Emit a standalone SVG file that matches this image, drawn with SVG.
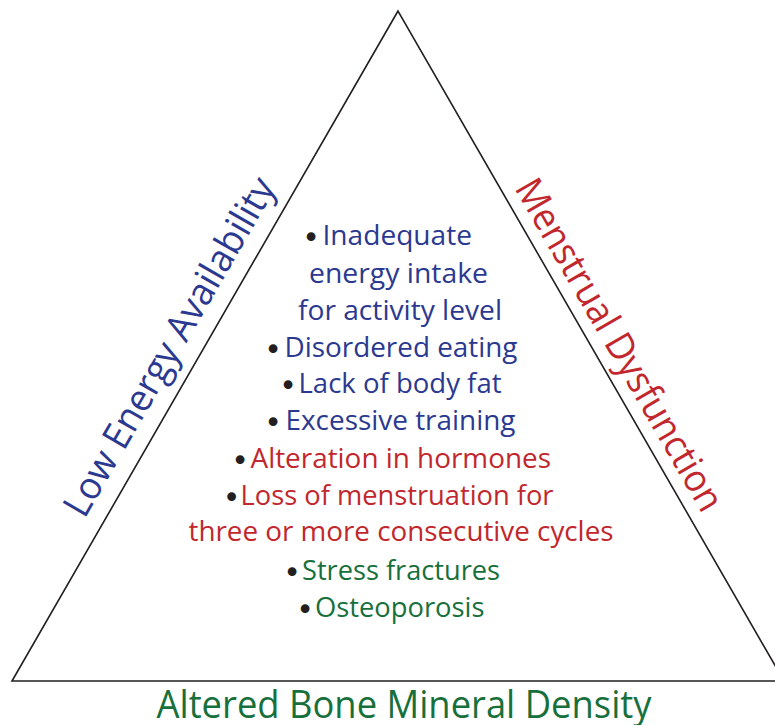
<svg xmlns="http://www.w3.org/2000/svg" width="775" height="725" viewBox="0 0 775 725">
  <style>
    .edge { fill: none; stroke: #231f20; stroke-width: 1.6; stroke-linejoin: miter; }
    .label { font-family: "Open Sans", "Liberation Sans", sans-serif; font-size: 38px; }
    .item { font-family: "Open Sans", "Liberation Sans", sans-serif; font-size: 26.5px; }
    .dot { font-family: "DejaVu Sans", sans-serif; font-size: 30px; fill: #231f20; text-anchor: middle; }
    .blue { fill: #2b3990; }
    .red { fill: #c1272d; }
    .green { fill: #17703c; }
  </style>
  <rect width="775" height="725" fill="#ffffff"/>
  <g id="triangle">
    <path class="edge" d="M398 11 L12 681 L784 681 Z"/>
  </g>
  <g id="label-low-energy">
    <text class="label blue" transform="translate(84.5 519.6) rotate(-60)" textLength="384" lengthAdjust="spacingAndGlyphs">Low Energy Availability</text>
  </g>
  <g id="label-menstrual">
    <text class="label red" transform="translate(514 188) rotate(60)" textLength="377" lengthAdjust="spacingAndGlyphs">Menstrual Dysfunction</text>
  </g>
  <g id="label-bone">
    <text class="label green" x="156.5" y="717.5" textLength="495" lengthAdjust="spacingAndGlyphs">Altered Bone Mineral Density</text>
  </g>
  <g id="list">
    <text class="dot" x="311" y="248">•</text>
    <text class="item blue" x="322.5" y="245" textLength="149.5" lengthAdjust="spacingAndGlyphs">Inadequate</text>
    <text class="item blue" x="309" y="282.5" textLength="179" lengthAdjust="spacingAndGlyphs">energy intake</text>
    <text class="item blue" x="298" y="320" textLength="204" lengthAdjust="spacingAndGlyphs">for activity level</text>

    <text class="dot" x="273" y="359.5">•</text>
    <text class="item blue" x="284.5" y="356.5" textLength="233" lengthAdjust="spacingAndGlyphs">Disordered eating</text>
    <text class="dot" x="288" y="396">•</text>
    <text class="item blue" x="298.5" y="393" textLength="203" lengthAdjust="spacingAndGlyphs">Lack of body fat</text>
    <text class="dot" x="273" y="433">•</text>
    <text class="item blue" x="285.5" y="430" textLength="230" lengthAdjust="spacingAndGlyphs">Excessive training</text>

    <text class="dot" x="240" y="471">•</text>
    <text class="item red" x="250.5" y="468" textLength="300.5" lengthAdjust="spacingAndGlyphs">Alteration in hormones</text>
    <text class="dot" x="231.5" y="508">•</text>
    <text class="item red" x="240.5" y="505" textLength="313" lengthAdjust="spacingAndGlyphs">Loss of menstruation for</text>
    <text class="item red" x="188.5" y="541" textLength="425" lengthAdjust="spacingAndGlyphs">three or more consecutive cycles</text>

    <text class="dot" x="292" y="582.5">•</text>
    <text class="item green" x="302" y="579.5" textLength="198" lengthAdjust="spacingAndGlyphs">Stress fractures</text>
    <text class="dot" x="305" y="619.5">•</text>
    <text class="item green" x="315" y="616.5" textLength="169.5" lengthAdjust="spacingAndGlyphs">Osteoporosis</text>
  </g>
</svg>
